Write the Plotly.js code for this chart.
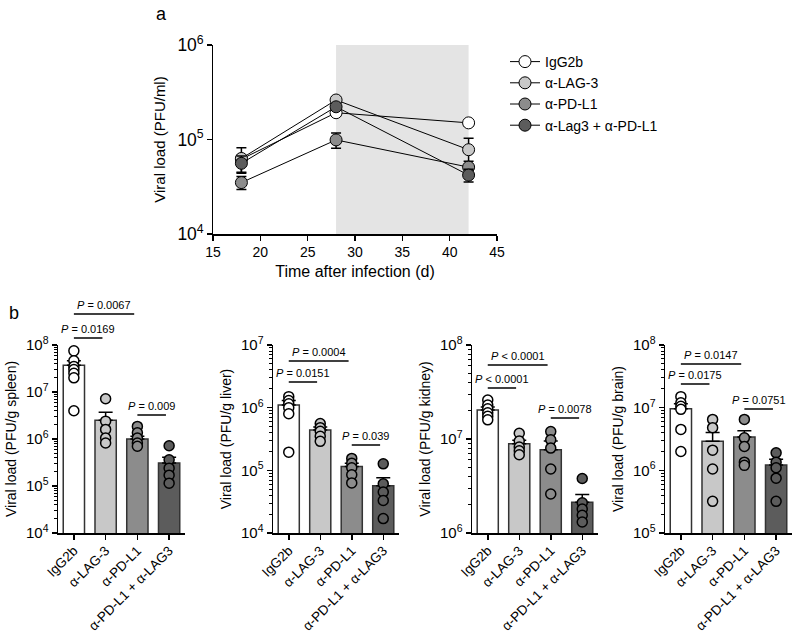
<!DOCTYPE html>
<html>
<head>
<meta charset="utf-8">
<script src="https://cdn.plot.ly/plotly-3.0.1.min.js"></script>
<style>
  html, body { margin: 0; padding: 0; background: #fff; }
  #chart { width: 800px; height: 632px; }
</style>
</head>
<body>
<div id="chart"></div>
<script>
// panel a: viral load over time
const days = [18, 28, 42];
const iggLoad = [62000, 192000, 150000];
const lag3Load = [63000, 262000, 78000];
const pdl1Load = [35000, 99000, 51000];
const comboLoad = [56000, 222000, 42000];
const iggErr = [6000, 15000, 10000];
const lag3Err = [19000, 22000, 25000];
const pdl1Err = [5500, 18000, 8000];
const comboErr = [11000, 18000, 6500];
const seriesNames = ['IgG2b', 'α-LAG-3', 'α-PD-L1', 'α-Lag3 + α-PD-L1'];

// panel b: organ titres per group
const groups = ['IgG2b', 'α-LAG-3', 'α-PD-L1', 'α-PD-L1 + α-LAG3'];

const spleenMean = [3.7e7, 2.5e6, 1.0e6, 3.1e5];
const spleenErr = [9e6, 1.2e6, 1.5e5, 1.0e5];
const spleenDots = [
  [7.5e7, 4.6e7, 3.5e7, 3.0e7, 2.5e7, 2.0e7, 4.0e6],
  [7.2e6, 2.4e6, 1.6e6, 1.05e6, 8.2e5],
  [1.85e6, 1.35e6, 1.05e6, 8.2e5, 7.0e5],
  [7.2e5, 3.6e5, 2.4e5, 1.7e5, 1.15e5]
];
const liverMean = [1.1e6, 4.4e5, 1.15e5, 5.7e4];
const liverErr = [2e5, 5e4, 1.5e4, 1.9e4];
const liverDots = [
  [1.5e6, 1.3e6, 1.15e6, 1.0e6, 8.0e5, 1.95e5],
  [5.6e5, 4.8e5, 4.2e5, 3.5e5, 2.9e5],
  [1.55e5, 1.3e5, 1.1e5, 8.5e4, 6.3e4],
  [1.27e5, 6.1e4, 4.5e4, 3.3e4, 1.7e4]
];
const kidneyMean = [2.04e7, 8.9e6, 7.7e6, 2.13e6];
const kidneyErr = [1.5e6, 8e5, 1.8e6, 4.4e5];
const kidneyDots = [
  [2.6e7, 2.3e7, 2.1e7, 1.9e7, 1.75e7, 1.6e7],
  [1.15e7, 9.5e6, 8.2e6, 7.5e6, 6.8e6],
  [1.2e7, 9.8e6, 8.0e6, 4.8e6, 2.6e6],
  [3.8e6, 2.1e6, 1.8e6, 1.54e6, 1.31e6]
];
const brainMean = [9.6e6, 2.9e6, 3.4e6, 1.22e6];
const brainErr = [2e6, 1.1e6, 0.9e6, 0.28e6];
const brainDots = [
  [1.5e7, 1.2e7, 1.05e7, 9.4e6, 4.5e6, 2.0e6],
  [6.5e6, 4.8e6, 2.1e6, 1.05e6, 3.2e5],
  [6.5e6, 3.3e6, 2.4e6, 1.35e6, 1.2e6],
  [1.9e6, 1.35e6, 1.1e6, 7.5e5, 3.2e5]
];

const fills = ['#ffffff', '#c8c8c8', '#8c8c8c', '#5c5c5c'];
const FONT = 'Liberation Sans, Arial, sans-serif';

// pixel -> paper helpers
const W = 800, H = 632;
const px = p => p / W;
const py = p => 1 - p / H;

let data = [];

// panel a
[iggLoad, lag3Load, pdl1Load, comboLoad].forEach((ys, i) => {
  const errs = [iggErr, lag3Err, pdl1Err, comboErr][i];
  data.push({
    x: days, y: ys, name: seriesNames[i], type: 'scatter', mode: 'lines+markers',
    xaxis: 'x', yaxis: 'y',
    line: {color: '#000', width: 1},
    marker: {size: 12, color: fills[i], line: {color: '#000', width: 1}},
    error_y: {type: 'data', array: errs, color: '#000', thickness: 1.5, width: 5}
  });
});

// panel b
const organs = [
  {mean: spleenMean, err: spleenErr, dots: spleenDots, title: 'Viral load (PFU/g spleen)'},
  {mean: liverMean, err: liverErr, dots: liverDots, title: 'Viral load (PFU/g liver)'},
  {mean: kidneyMean, err: kidneyErr, dots: kidneyDots, title: 'Viral load (PFU/g kidney)'},
  {mean: brainMean, err: brainErr, dots: brainDots, title: 'Viral load (PFU/g brain)'}
];

organs.forEach((o, k) => {
  const xa = 'x' + (k + 2), ya = 'y' + (k + 2);
  data.push({
    x: groups, y: o.mean, type: 'bar', xaxis: xa, yaxis: ya, showlegend: false, width: 0.67,
    marker: {color: fills, line: {color: '#333', width: 1.5}},
    error_y: {type: 'data', symmetric: false, array: o.err, arrayminus: [0, 0, 0, 0],
      color: '#000', thickness: 1.5, width: 7}
  });
  o.dots.forEach((vals, g) => {
    data.push({
      x: vals.map(() => groups[g]), y: vals, type: 'scatter', mode: 'markers',
      xaxis: xa, yaxis: ya, showlegend: false,
      marker: {size: 10, color: fills[g], line: {color: '#000', width: 1.5}}
    });
  });
});

const baseAxis = {
  showline: true, linecolor: '#000', linewidth: 1.5, ticks: 'outside', ticklen: 5,
  tickwidth: 1.5, tickcolor: '#000', showgrid: false, zeroline: false,
  tickfont: {family: FONT, size: 14, color: '#000'}
};

let layout = {
  width: W, height: H, margin: {l: 0, r: 0, t: 0, b: 0},
  paper_bgcolor: '#fff', plot_bgcolor: 'rgba(0,0,0,0)',
  font: {family: FONT, color: '#000'},
  legend: {x: px(505), y: py(46), xanchor: 'left', yanchor: 'top',
    font: {family: FONT, size: 14, color: '#000'}, bgcolor: 'rgba(0,0,0,0)'},
  xaxis: Object.assign({}, baseAxis, {domain: [px(213), px(497)], anchor: 'y', range: [15, 45],
    dtick: 5, title: {text: 'Time after infection (d)', font: {family: FONT, size: 16}, standoff: 6}}),
  yaxis: Object.assign({}, baseAxis, {domain: [py(234), py(45)], anchor: 'x', type: 'log',
    range: [4, 6], dtick: 1, exponentformat: 'power',
    title: {text: 'Viral load (PFU/ml)', font: {family: FONT, size: 15}, standoff: 8}}),
  shapes: [
    {type: 'rect', xref: 'x', yref: 'y domain', x0: 28, x1: 42, y0: 0, y1: 1,
      fillcolor: '#e4e4e4', line: {width: 0}, layer: 'below'}
  ],
  annotations: [
    {text: 'a', xref: 'paper', yref: 'paper', x: px(161), y: py(14), xanchor: 'center',
      yanchor: 'middle', showarrow: false, font: {family: FONT, size: 18}},
    {text: 'b', xref: 'paper', yref: 'paper', x: px(14), y: py(313), xanchor: 'center',
      yanchor: 'middle', showarrow: false, font: {family: FONT, size: 18}}
  ]
};

const bx = [[58, 185], [273, 399], [472, 598], [665, 792]];
const bRange = [[4, 8], [4, 7], [6, 8], [5, 8]];
organs.forEach((o, k) => {
  const n = k + 2;
  // decade ticks with 10^n labels, plus minor ticks at 2..9 per decade
  let majorVals = [], majorText = [], minorVals = [];
  for (let e = bRange[k][0]; e <= bRange[k][1]; e++) {
    majorVals.push(Math.pow(10, e));
    majorText.push('10<sup>' + e + '</sup>');
    if (e < bRange[k][1]) {
      for (let m = 2; m <= 9; m++) minorVals.push(m * Math.pow(10, e));
    }
  }
  layout['xaxis' + n] = Object.assign({}, baseAxis, {domain: [px(bx[k][0]), px(bx[k][1])],
    anchor: 'y' + n, type: 'category', range: [-0.5, 3.5], tickangle: -45,
    tickfont: {family: FONT, size: 13.5, color: '#000'}, ticklabelstandoff: -2});
  layout['yaxis' + n] = Object.assign({}, baseAxis, {domain: [py(533), py(345)],
    anchor: 'x' + n, type: 'log', range: bRange[k],
    tickmode: 'array', tickvals: majorVals, ticktext: majorText,
    tickfont: {family: FONT, size: 15, color: '#000'},
    minor: {tickmode: 'array', tickvals: minorVals, ticks: 'outside', ticklen: 3,
      tickwidth: 1, tickcolor: '#000'},
    title: {text: o.title, font: {family: FONT, size: 14}, standoff: 6}});
});

// P-value brackets: [panel, from, to, label, y pixel]
const pvals = [
  [0, 0, 1, '<i>P</i> = 0.0169', 338],
  [0, 0, 2, '<i>P</i> = 0.0067', 314],
  [0, 2, 3, '<i>P</i> = 0.009', 415],
  [1, 0, 1, '<i>P</i> = 0.0151', 382],
  [1, 0, 2, '<i>P</i> = 0.0004', 361],
  [1, 2, 3, '<i>P</i> = 0.039', 445],
  [2, 0, 1, '<i>P</i> &lt; 0.0001', 388],
  [2, 0, 2, '<i>P</i> &lt; 0.0001', 365],
  [2, 2, 3, '<i>P</i> = 0.0078', 418],
  [3, 0, 1, '<i>P</i> = 0.0175', 384],
  [3, 0, 2, '<i>P</i> = 0.0147', 364],
  [3, 2, 3, '<i>P</i> = 0.0751', 409]
];
pvals.forEach(p => {
  const xr = 'x' + (p[0] + 2);
  layout.shapes.push({type: 'line', xref: xr, yref: 'paper', x0: p[1], x1: p[2] - 0.1,
    y0: py(p[4]), y1: py(p[4]), line: {color: '#000', width: 1.5}});
  layout.annotations.push({text: p[3], xref: xr, yref: 'paper', x: (p[1] + p[2] - 0.1) / 2,
    y: py(p[4] - 1), yanchor: 'bottom', showarrow: false,
    font: {family: FONT, size: 11, color: '#000'}});
});

Plotly.newPlot('chart', data, layout, {staticPlot: true});
</script>
</body>
</html>
